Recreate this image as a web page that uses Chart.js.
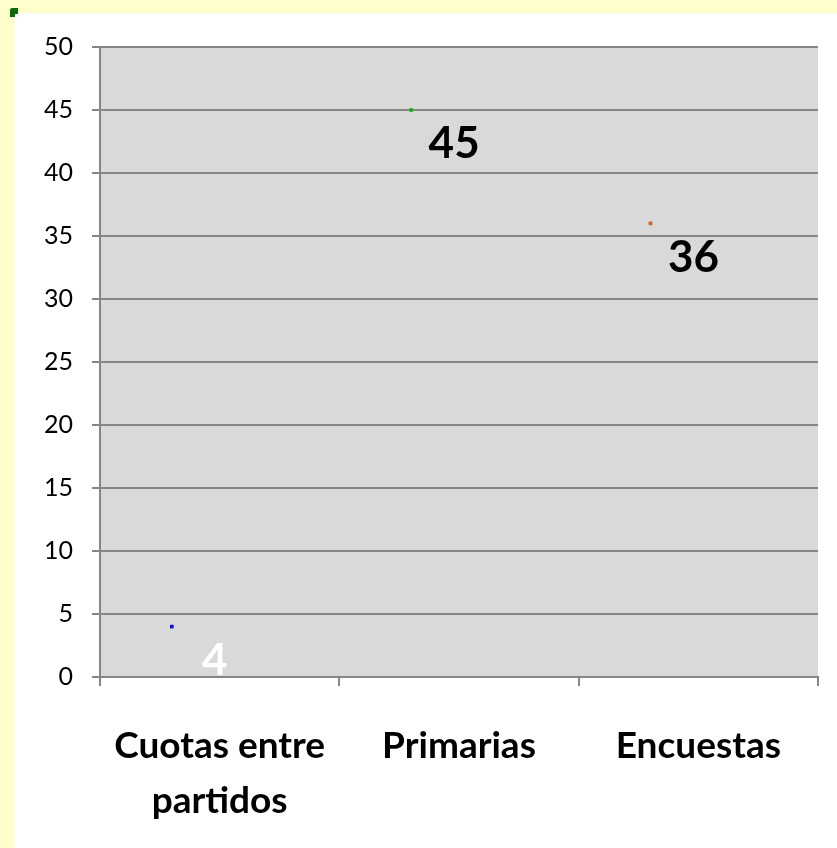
<!DOCTYPE html>
<html>
<head>
<meta charset="utf-8">
<script src="https://cdn.jsdelivr.net/npm/chart.js@4.4.0/dist/chart.umd.min.js"></script>
<style>
  html, body { margin: 0; padding: 0; }
  body { width: 837px; height: 848px; background: #FFFFCC; position: relative; overflow: hidden; }
  #panel { position: absolute; left: 14px; top: 13px; width: 823px; height: 835px; background: #ffffff; }
  #corner { position: absolute; left: 10px; top: 8px; width: 8px; height: 9px; background: #0B6B0B; border-radius: 2px 0 0 0; z-index: 2; }
  #corner:after { content: ''; position: absolute; right: 0; bottom: 0; width: 3px; height: 3px; background: #fff; }
</style>
</head>
<body>
<div id="panel"><canvas id="chart-puntos"></canvas></div>
<div id="corner"></div>
<script>
var categorias = [['Cuotas entre', 'partidos'], 'Primarias', 'Encuestas'];
var valores = [4, 45, 36];
var coloresPunto = ['#1010D0', '#10B010', '#C0662A'];
var coloresEtiqueta = ['#ffffff', '#000000', '#000000'];
var yTicks = [0, 5, 10, 15, 20, 25, 30, 35, 40, 45, 50];
var desplazamiento = -0.2; // los marcadores quedan a la izquierda del centro

var fondoGris = {
    id: 'fondoGris',
    beforeDraw: function(chart) {
        var a = chart.chartArea;
        var ctx = chart.ctx;
        ctx.save();
        ctx.fillStyle = '#D9D9D9';
        ctx.fillRect(a.left, a.top, a.right - a.left, a.bottom - a.top);
        ctx.restore();
    }
};

var etiquetas = {
    id: 'etiquetas',
    afterDatasetsDraw: function(chart) {
        var ctx = chart.ctx;
        var meta = chart.getDatasetMeta(0);
        ctx.save();
        ctx.font = 'bold 44px Lato';
        ctx.textAlign = 'center';
        ctx.textBaseline = 'middle';
        meta.data.forEach(function(pt, i) {
            ctx.fillStyle = coloresEtiqueta[i];
            ctx.fillText(String(valores[i]), pt.x + 43, pt.y + 34);
        });
        ctx.restore();
    }
};

var puntos = [];
for (var i = 0; i < valores.length; i++) {
    puntos.push({ x: i + 0.5 + desplazamiento, y: valores[i] });
}

window.chartPuntos = new Chart(document.getElementById('chart-puntos'), {
    type: 'scatter',
    data: {
        datasets: [{
            data: puntos,
            pointStyle: 'rect',
            pointRadius: 2.6,
            pointBorderWidth: 0,
            pointBackgroundColor: coloresPunto,
            showLine: false
        }]
    },
    options: {
        responsive: true,
        maintainAspectRatio: false,
        animation: false,
        layout: { padding: { top: 33, right: 19, left: 0, bottom: 0 } },
        plugins: { legend: { display: false }, tooltip: { enabled: false } },
        scales: {
            x: {
                type: 'linear',
                min: 0,
                max: categorias.length,
                afterBuildTicks: function(scale) {
                    var t = [];
                    for (var k = 0; k <= categorias.length * 2; k++) t.push({ value: k / 2 });
                    scale.ticks = t;
                },
                afterFit: function(scale) {
                    scale.height = 171;
                    scale.paddingLeft = 0;
                    scale.paddingRight = 0;
                },
                ticks: {
                    autoSkip: false,
                    maxRotation: 0,
                    padding: 33,
                    color: '#000000',
                    font: { family: 'Lato', size: 37, weight: 'bold', lineHeight: 1.48 },
                    callback: function(value) {
                        if (value % 1 === 0) return '';
                        return categorias[Math.floor(value)];
                    }
                },
                grid: {
                    drawOnChartArea: false,
                    tickLength: 9,
                    lineWidth: 2,
                    tickColor: function(ctx) {
                        return (ctx.tick && ctx.tick.value % 1 === 0) ? '#868686' : 'rgba(0,0,0,0)';
                    }
                },
                border: { color: '#868686', width: 2 }
            },
            y: {
                min: 0,
                max: 50,
                afterBuildTicks: function(scale) {
                    scale.ticks = yTicks.map(function(v) { return { value: v }; });
                },
                afterFit: function(scale) { scale.width = 86; },
                ticks: {
                    padding: 19,
                    color: '#000000',
                    font: { family: 'Lato', size: 25 }
                },
                grid: { color: '#868686', lineWidth: 2, tickLength: 8 },
                border: { color: '#868686', width: 2 }
            }
        }
    },
    plugins: [fondoGris, etiquetas]
});
</script>
</body>
</html>
